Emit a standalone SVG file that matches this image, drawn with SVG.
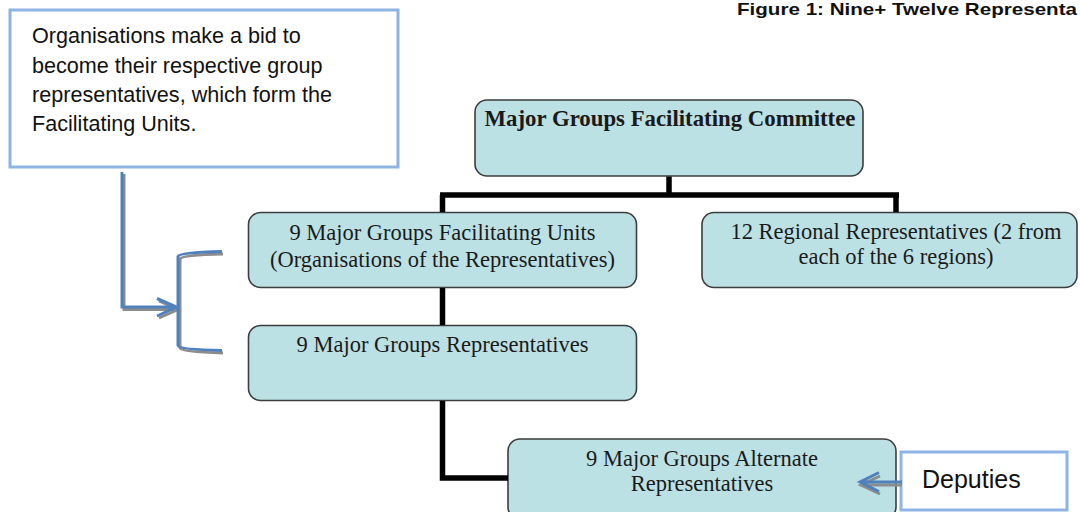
<svg xmlns="http://www.w3.org/2000/svg" width="1080" height="512" viewBox="0 0 1080 512">
<style>
.node{fill:#bce1e5;stroke:#3c3c3c;stroke-width:1.6}
.t{font-family:"Liberation Serif","Times New Roman",serif;font-size:22.5px;fill:#1a1a1a;text-anchor:middle}
.tb{font-weight:bold;font-size:22.8px}
.call{fill:#ffffff;stroke:#8eb4e3;stroke-width:3}
.ct{font-family:"Liberation Sans",Arial,sans-serif;font-size:21.6px;fill:#111}
.conn{fill:none;stroke:#000;stroke-width:5.5}
.blue{fill:none;stroke:#4f81bd;stroke-width:3}
.shadow{fill:none;stroke:#8c8c8c;stroke-width:3}
</style>
<rect width="1080" height="512" fill="#ffffff"/>
<text x="737" y="15" font-family="'Liberation Sans',Arial,sans-serif" font-weight="bold" font-size="17" fill="#111" textLength="340" lengthAdjust="spacingAndGlyphs">Figure 1:  Nine+ Twelve Representa</text>

<g id="callout">
<rect class="call" x="10" y="10" width="388" height="157"/>
<text class="ct" x="32" y="43">Organisations make a bid to</text>
<text class="ct" x="32" y="73">become their respective group</text>
<text class="ct" x="32" y="102">representatives, which form the</text>
<text class="ct" x="32" y="131">Facilitating Units.</text>
</g>

<g id="committee">
<rect class="node" x="475" y="100" width="388" height="76" rx="12"/>
<text class="t tb" x="670" y="126">Major Groups Facilitating Committee</text>
</g>

<g id="facilitating-units">
<rect class="node" x="248.5" y="212.5" width="388" height="75" rx="12"/>
<text class="t" x="442.5" y="240">9 Major Groups Facilitating Units</text>
<text class="t" x="442.5" y="267">(Organisations of the Representatives)</text>
</g>

<g id="regional">
<rect class="node" x="702" y="212.5" width="375" height="75" rx="12"/>
<text class="t" x="896" y="239">12 Regional Representatives (2 from</text>
<text class="t" x="896" y="264">each of the 6 regions)</text>
</g>

<g id="representatives">
<rect class="node" x="248.5" y="325.5" width="388" height="75" rx="12"/>
<text class="t" x="442.5" y="352">9 Major Groups Representatives</text>
</g>

<g id="alternates">
<rect class="node" x="508" y="439" width="388" height="80" rx="12"/>
<text class="t" x="702" y="466">9 Major Groups Alternate</text>
<text class="t" x="702" y="491">Representatives</text>
</g>

<g id="deputies">
<rect class="call" x="901" y="452" width="166" height="58"/>
<text x="922" y="488" font-family="'Liberation Sans',Arial,sans-serif" font-size="25" fill="#111">Deputies</text>
</g>

<g id="connectors">
<path class="conn" d="M669,176.5 V195 M440,195 H899 M442.5,195 V212 M896,195 V212"/>
<path class="conn" d="M442.5,288 V325 M442.5,401 V478 H508"/>
<!-- callout arrow -->
<path class="shadow" d="M124,174 V309.5 H177"/>
<path class="shadow" d="M159,301 L178,309.5 L159,318"/>
<path class="blue" d="M122,172 V307 H176"/>
<path class="blue" d="M157,298.5 L176.5,307 L157,316"/>
<!-- bracket -->
<path class="shadow" d="M223,254 Q181,255 180,259 V348 Q181,352 223,353" stroke-width="2.5"/>
<path class="blue" d="M222,251.5 Q179,252.5 178,256.5 V345.5 Q179,349.5 222,350.5" stroke-width="2.2"/>
<!-- deputies arrow -->
<path class="shadow" d="M902,485 H862 M880,476 L861,485 L880,494"/>
<path class="blue" d="M902,482 H860 M879,472.5 L860,482 L879,491.5"/>
</g>
</svg>
